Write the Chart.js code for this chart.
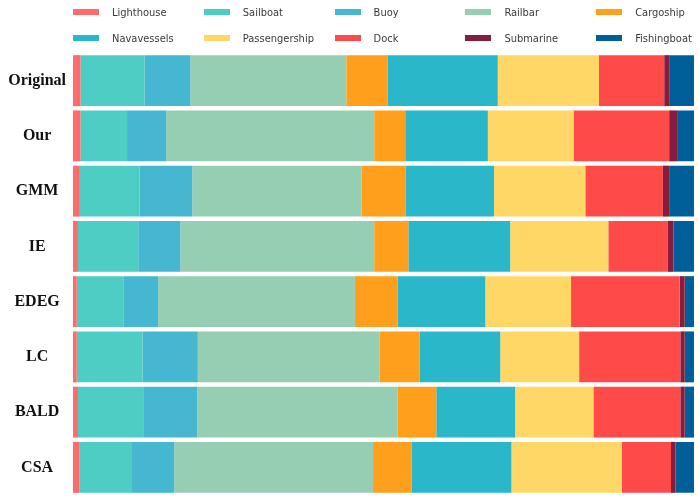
<!DOCTYPE html>
<html>
<head>
<meta charset="utf-8">
<script src="https://cdn.jsdelivr.net/npm/chart.js@4.4.1/dist/chart.umd.min.js"></script>
<style>
  html, body { margin: 0; padding: 0; background: #fff; }
  #wrap { position: relative; width: 700px; height: 499px; }
  #legend { position: absolute; left: 0; top: 0; width: 700px; height: 50px; }
  .item { position: absolute; display: flex; align-items: center; height: 14px;
          font-family: "DejaVu Sans", sans-serif; font-stretch: condensed; font-size: 11px; color: #3a3a3a; }
  .box { width: 26px; height: 6px; margin-right: 13px; }
</style>
</head>
<body>
<div id="wrap">
  <canvas id="grafico" width="700" height="499"></canvas>
  <div id="legend"></div>
</div>
<script>
// metodos (filas) y clases (segmentos), en porcentaje
const metodos = ['Original', 'Our', 'GMM', 'IE', 'EDEG', 'LC', 'BALD', 'CSA'];
const clases = ['Lighthouse', 'Sailboat', 'Buoy', 'Railbar', 'Cargoship',
                'Navavessels', 'Passengership', 'Dock', 'Submarine', 'Fishingboat'];
const colores = ['#FF6B6B', '#4ECDC4', '#45B7D1', '#96CEB4', '#FF9F1C',
                 '#2AB7CA', '#FED766', '#FE4A49', '#851E3E', '#005F99'];

const lighthouse    = [1.2, 1.2, 1.1, 0.8, 0.6, 0.6, 0.8, 1.0];
const sailboat      = [10.3, 7.5, 9.6, 9.7, 7.5, 10.6, 10.5, 8.5];
const buoy          = [7.4, 6.3, 8.5, 6.8, 5.6, 8.9, 8.7, 6.8];
const railbar       = [25.1, 33.5, 27.3, 31.2, 31.7, 29.3, 32.3, 32.0];
const cargoship     = [6.7, 5.0, 7.1, 5.5, 6.9, 6.4, 6.2, 6.2];
const navavessels   = [17.7, 13.3, 14.2, 16.4, 14.1, 13.0, 12.7, 16.1];
const passengership = [16.3, 13.8, 14.7, 15.8, 13.8, 12.7, 12.6, 17.8];
const dock          = [10.5, 15.4, 12.5, 9.6, 17.5, 16.3, 14.0, 7.9];
const submarine     = [0.9, 1.4, 1.1, 0.9, 0.8, 0.7, 0.7, 0.7];
const fishingboat   = [3.9, 2.6, 3.9, 3.3, 1.5, 1.5, 1.5, 3.0];

const series = [lighthouse, sailboat, buoy, railbar, cargoship,
                navavessels, passengership, dock, submarine, fishingboat];

// leyenda en rejilla 5 x 2
const legend = document.getElementById('legend');
clases.forEach((nombre, i) => {
  const col = i % 5, fila = Math.floor(i / 5);
  const el = document.createElement('div');
  el.className = 'item';
  el.style.left = (73 + col * 130.8) + 'px';
  el.style.top = (5 + fila * 26) + 'px';
  el.innerHTML = `<span class="box" style="background:${colores[i]}"></span><span>${nombre}</span>`;
  legend.appendChild(el);
});

const ctx = document.getElementById('grafico').getContext('2d');
new Chart(ctx, {
  type: 'bar',
  data: {
    labels: metodos,
    datasets: clases.map((nombre, i) => ({
      label: nombre,
      data: series[i],
      backgroundColor: colores[i],
      borderWidth: 0,
      categoryPercentage: 1,
      barPercentage: 0.922
    }))
  },
  options: {
    indexAxis: 'y',
    responsive: false,
    animation: false,
    layout: { padding: { top: 53, bottom: 4, right: 6, left: 0 } },
    plugins: {
      legend: { display: false },
      tooltip: { enabled: false }
    },
    scales: {
      x: {
        stacked: true,
        min: 0,
        max: 100,
        display: false
      },
      y: {
        stacked: true,
        grid: { display: false, drawTicks: false },
        border: { display: false },
        afterFit: (scale) => {
          scale.width = 73;
          scale.paddingTop = 0;
          scale.paddingBottom = 0;
        },
        ticks: {
          crossAlign: 'center',
          padding: 7,
          color: '#111',
          font: { family: '"Liberation Serif", "Times New Roman", serif', size: 16, weight: 'bold' }
        }
      }
    }
  }
});
</script>
</body>
</html>
